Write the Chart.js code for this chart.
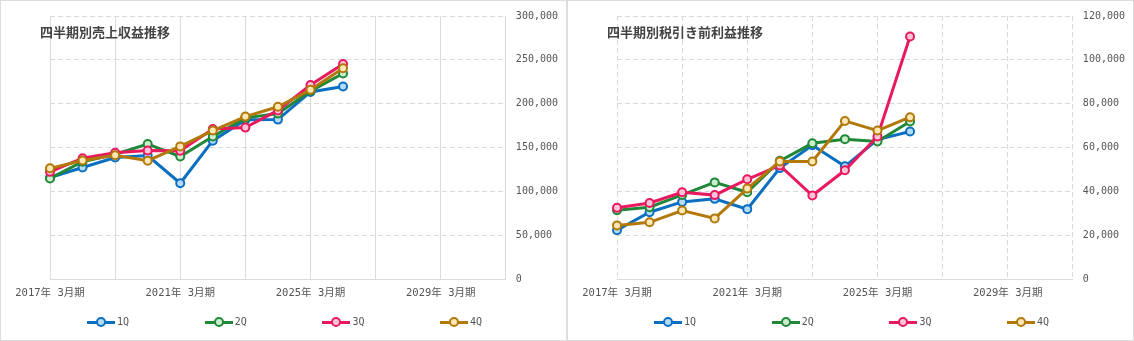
<!DOCTYPE html>
<html lang="ja">
<head>
<meta charset="UTF-8">
<title>四半期別業績推移</title>
<script src="https://cdn.jsdelivr.net/npm/chart.js"></script>
<style>
  body { margin: 0; background: #fff; }
  .row { display: flex; width: 1134px; }
  .panel { position: relative; width: 565px; height: 339px; border: 1px solid #ddd; }
  .panel canvas { position: absolute; left: 0; top: 0; }
  .title { position: absolute; left: 39px; top: 24px; font: bold 13px "Noto Sans CJK JP", sans-serif; line-height: 1; color: #444; }
  .legend { position: absolute; left: 86px; top: 315px; display: flex; font: 10px "DejaVu Sans Mono", monospace; line-height: 12px; color: #555; }
  .legend .item { width: 117.7px; display: flex; align-items: center; }
  .swatch { position: relative; width: 28px; height: 3px; margin-right: 2px; }
  .swatch i { position: absolute; left: 9px; top: -3.5px; width: 6px; height: 6px; border: 2px solid; border-radius: 50%; }
</style>
</head>
<body>
<div class="row">
  <div class="panel">
    <canvas id="salesChart"></canvas>
    <div class="title">四半期別売上収益推移</div>
    <div class="legend" id="salesLegend"></div>
  </div>
  <div class="panel">
    <canvas id="profitChart"></canvas>
    <div class="title">四半期別税引き前利益推移</div>
    <div class="legend" id="profitLegend"></div>
  </div>
</div>

<script>
  // fiscal years on the x axis (only every 4th one gets a label)
  const fiscalYears = [
    '2017年 3月期', '2018年 3月期', '2019年 3月期', '2020年 3月期', '2021年 3月期',
    '2022年 3月期', '2023年 3月期', '2024年 3月期', '2025年 3月期', '2026年 3月期',
    '2027年 3月期', '2028年 3月期', '2029年 3月期', '2030年 3月期', '2031年 3月期'
  ];
  const quarters = ['1Q', '2Q', '3Q', '4Q'];

  // 売上収益
  const salesQ1 = [116000, 127500, 138800, 141000, 109500, 158000, 181700, 182000, 213500, 219800];
  const salesQ2 = [115000, 134000, 142500, 154200, 140000, 162700, 184000, 189000, 214500, 234500];
  const salesQ3 = [122500, 138000, 144200, 146800, 146600, 171400, 172900, 192500, 221400, 245300];
  const salesQ4 = [126500, 135500, 141400, 135200, 151500, 169500, 185400, 196600, 216000, 240400];

  // 税引き前利益
  const profitQ1 = [22400, 30600, 35300, 36700, 32000, 50700, 61100, 51500, 63700, 67400];
  const profitQ2 = [31500, 32900, 38500, 44200, 39700, 54000, 62000, 63900, 62800, 71900];
  const profitQ3 = [32600, 34800, 39700, 38400, 45600, 51900, 38200, 49700, 65100, 110700];
  const profitQ4 = [24600, 26000, 31400, 27800, 41400, 53700, 53700, 72200, 67800, 73900];

  const lineColors = ['#0b6fc1', '#21883a', '#e8195f', '#b2780a'];
  const pointFills = ['#b5dbf7', '#cdeecd', '#fbc4d7', '#fde8b6'];
  const gridColor = '#dadada';
  const tickFont = { family: '"DejaVu Sans Mono", "Noto Sans CJK JP", monospace', size: 10 };

  function buildLegend(id) {
    const box = document.getElementById(id);
    quarters.forEach((q, i) => {
      const item = document.createElement('span');
      item.className = 'item';
      item.innerHTML = `<span class="swatch" style="background:${lineColors[i]}"><i style="border-color:${lineColors[i]};background:${pointFills[i]}"></i></span>${q}`;
      box.appendChild(item);
    });
  }

  function makeChart(canvasId, series, yMax, yStep, dashedX) {
    const ctx = document.getElementById(canvasId).getContext('2d');
    return new Chart(ctx, {
      type: 'line',
      data: {
        labels: fiscalYears,
        datasets: series.map((values, i) => ({
          label: quarters[i],
          data: values,
          borderColor: lineColors[i],
          borderWidth: 3,
          pointRadius: 4,
          pointBorderWidth: 2,
          pointBackgroundColor: pointFills[i],
          pointBorderColor: lineColors[i],
          tension: 0,
          order: series.length - i
        }))
      },
      options: {
        responsive: true,
        maintainAspectRatio: false,
        animation: false,
        layout: { padding: { left: 49, right: -2, top: 13, bottom: 32 } },
        plugins: { legend: { display: false }, tooltip: { enabled: false } },
        scales: {
          x: {
            grid: {
              color: (c) => (c.index % 2 === 0 ? gridColor : 'transparent'),
              drawTicks: false
            },
            border: { color: gridColor, dash: dashedX ? [5, 3] : [] },
            ticks: {
              autoSkip: false,
              maxRotation: 0,
              padding: 8,
              color: '#555',
              font: { ...tickFont, size: 10.5 },
              callback: function (v, i) { return i % 4 === 0 ? this.getLabelForValue(v) : ''; }
            }
          },
          y: {
            position: 'right',
            min: 0,
            max: yMax,
            grid: { color: gridColor, drawTicks: false },
            border: { display: !dashedX, color: gridColor, dash: [5, 3] },
            ticks: {
              stepSize: yStep,
              padding: 10,
              color: '#555',
              font: { ...tickFont, lineHeight: 1 },
              callback: (v) => v.toLocaleString('en-US')
            }
          }
        }
      }
    });
  }

  makeChart('salesChart', [salesQ1, salesQ2, salesQ3, salesQ4], 300000, 50000, false);
  makeChart('profitChart', [profitQ1, profitQ2, profitQ3, profitQ4], 120000, 20000, true);
  buildLegend('salesLegend');
  buildLegend('profitLegend');
</script>
</body>
</html>
